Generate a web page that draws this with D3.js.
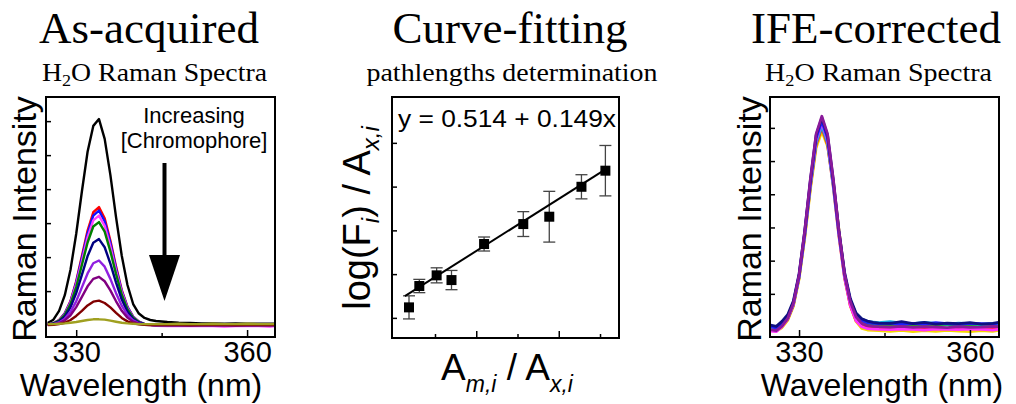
<!DOCTYPE html>
<html lang="en">
<head>
    <meta charset="UTF-8">
    <title>IFE correction</title>
    <script src="https://d3js.org/d3.v7.min.js"></script>
    <style>
        body {
            margin: 0;
            background: white;
        }
        .serif {
            font-family: "Liberation Serif", "Times New Roman", serif;
        }
        .sans {
            font-family: "Liberation Sans", Arial, sans-serif;
        }
    </style>
</head>
<body>
<svg id="viz"></svg>
<script>
    // wavelength grid (nm), shared by every spectrum
    var wavelengths = [325, 326, 327, 328, 329, 330, 331, 332, 333, 334,
        335, 336, 337, 338, 339, 340, 341, 342, 343, 344,
        346, 348, 350, 352, 354, 356, 358, 360, 362, 364, 365];

    // as-acquired spectra, top to bottom
    var acqBlack = [.06, .16, .42, .88, 1.63, 2.68, 3.93, 5.10, 5.86, 6.06, 5.48, 4.42, 3.17, 2.04, 1.18, .62, .34, .21, .15, .12,
        .09, .07, .06, .05, .05, .04, .05, .04, .04, .04, .04];
    var acqRed = [.02, .05, .15, .35, .71, 1.29, 2.03, 2.78, 3.32, 3.47, 3.14, 2.49, 1.72, 1.03, .54, .25, .10, .03, .01, 0,
        0, -.01, 0, .01, 0, -.01, 0, 0, .01, 0, 0];
    var acqBlue = [.02, .05, .14, .34, .69, 1.25, 1.97, 2.70, 3.22, 3.37, 3.05, 2.42, 1.67, 1.00, .53, .24, .10, .03, .01, 0,
        -.01, 0, .01, 0, -.01, 0, .01, 0, 0, -.01, 0];
    var acqMagenta = [.02, .05, .14, .32, .66, 1.19, 1.88, 2.58, 3.08, 3.22, 2.92, 2.31, 1.59, .96, .50, .23, .09, .03, .01, -.02,
        -.03, -.02, -.03, -.02, -.03, -.04, -.03, -.02, -.03, -.04, -.03];
    var acqGreen = [.01, .05, .13, .30, .62, 1.12, 1.77, 2.43, 2.90, 3.03, 2.75, 2.17, 1.50, .90, .47, .22, .09, .03, .01, 0,
        0, .01, 0, 0, .01, 0, 0, .01, 0, 0, .01];
    var acqNavy = [.01, .04, .11, .25, .52, .94, 1.48, 2.03, 2.42, 2.53, 2.29, 1.81, 1.25, .75, .39, .18, .07, .03, .01, 0,
        .01, 0, 0, .01, 0, 0, .01, 0, 0, .01, 0];
    var acqViolet = [.01, .03, .08, .19, .39, .70, 1.11, 1.52, 1.82, 1.90, 1.72, 1.36, .94, .57, .30, .14, .05, .02, .01, 0,
        0, -.01, 0, 0, -.01, 0, 0, -.01, 0, 0, 0];
    var acqPurple = [.01, .02, .06, .14, .29, .53, .83, 1.14, 1.36, 1.42, 1.29, 1.02, .70, .42, .22, .10, .04, .01, 0, 0,
        0, 0, -.01, 0, 0, 0, -.01, 0, 0, 0, 0];
    var acqMaroon = [0, .01, .03, .07, .15, .27, .42, .58, .69, .72, .65, .52, .36, .21, .11, .05, .02, .01, 0, 0,
        0, .01, 0, 0, .01, 0, 0, .01, 0, 0, 0];
    var acqOlive = [.03, .03, .04, .05, .07, .09, .12, .15, .17, .17, .16, .13, .10, .07, .05, .04, .03, .03, .03, .03,
        .03, .04, .03, .03, .04, .03, .03, .04, .03, .03, .03];

    // IFE-corrected spectra, drawn bottom to top
    var corYellow = [-.10, -.12, -.02, .20, .62, 1.44, 2.67, 4.15, 5.40, 5.90, 5.45, 4.35, 2.93, 1.55, .64, .17, -.04, -.09, -.10, -.11,
        -.13, -.10, -.14, -.11, -.13, -.10, -.12, -.14, -.11, -.13, -.10];
    var corRed = [-.08, -.10, .02, .23, .66, 1.48, 2.74, 4.23, 5.50, 6.00, 5.50, 4.23, 2.73, 1.46, .64, .20, .03, -.02, -.03, -.04,
        -.05, -.03, -.04, -.06, -.03, -.04, -.05, -.03, -.04, -.06, -.04];
    var corGreen = [-.03, -.06, .06, .25, .68, 1.51, 2.79, 4.32, 5.61, 6.12, 5.61, 4.32, 2.80, 1.51, .71, .29, .13, .08, .06, .05,
        .07, .04, .06, .03, .05, .07, .04, .05, .03, .06, .05];
    var corCyan = [-.04, -.06, .06, .25, .68, 1.50, 2.76, 4.27, 5.55, 6.05, 5.55, 4.27, 2.81, 1.56, .80, .40, .24, .17, .15, .13,
        .16, .12, .10, .14, .11, .09, .12, .10, .08, .11, .10];
    var corMagenta = [-.12, -.14, .01, .25, .69, 1.52, 2.81, 4.34, 5.64, 6.15, 5.64, 4.34, 2.79, 1.50, .65, .19, .01, -.05, -.06, -.07,
        -.08, -.06, -.07, -.09, -.06, -.07, -.08, -.06, -.07, -.09, -.07];
    var corBlue = [.02, -.03, .10, .30, .74, 1.55, 2.84, 4.38, 5.69, 6.20, 5.69, 4.38, 2.86, 1.58, .80, .38, .20, .13, .11, .10,
        .12, .08, .11, .09, .13, .10, .08, .11, .10, .09, .12];
    var corNavy = [.06, .02, .17, .37, .78, 1.60, 2.90, 4.44, 5.78, 6.30, 5.78, 4.44, 2.90, 1.64, .86, .42, .25, .18, .14, .12,
        .11, .16, .10, .14, .09, .12, .10, .13, .09, .11, .14];
    var corPurple = [-.08, -.11, .03, .26, .71, 1.57, 2.90, 4.48, 5.82, 6.35, 5.82, 4.48, 2.90, 1.60, .77, .31, .11, .04, .02, .01,
        0, .02, -.01, .01, 0, -.02, .01, -.01, 0, .02, .01];

    // curve-fitting points
    var fitX = [0.37, 0.62, 1.04, 1.40, 2.19, 3.14, 3.77, 4.55, 5.13];
    var fitY = [0.490, 0.612, 0.673, 0.646, 0.852, 0.966, 1.008, 1.179, 1.271];
    var fitErr = [0.066, 0.038, 0.043, 0.055, 0.040, 0.071, 0.145, 0.069, 0.144];
    var fitIntercept = 0.514;
    var fitSlope = 0.149;
    var fitSpan = [0.27, 5.16];

    // ticks
    var wlMajorTicks = [330, 360];
    var wlMinorTicks = [345];
    var intensityTicks = [1, 2, 3, 4, 5, 6];
    var ratioTicks = [1, 2, 3, 4, 5];
    var logTicks = [0.43, 0.68, 0.93, 1.18, 1.43];

    var svg = d3.select("#viz")
        .attr("width", 1016)
        .attr("height", 404);

    var SANS = "sans", SERIF = "serif";

    function addText(x, y, txt, size, cls, anchor) {
        return svg.append("text")
            .attr("class", cls)
            .attr("x", x).attr("y", y)
            .attr("font-size", size)
            .attr("text-anchor", anchor || "middle")
            .attr("fill", "black")
            .text(txt);
    }

    function subtitle(cx, txt, len, withH2O) {
        var t = svg.append("text")
            .attr("class", SERIF)
            .attr("x", cx).attr("y", 81)
            .attr("font-size", 26)
            .attr("text-anchor", "middle")
            .attr("textLength", len)
            .attr("lengthAdjust", "spacingAndGlyphs");
        if (withH2O) {
            t.append("tspan").text("H");
            t.append("tspan").attr("dy", 5).attr("font-size", 17).text("2");
            t.append("tspan").attr("dy", -5).text("O Raman Spectra");
        } else {
            t.text(txt);
        }
    }

    function frame(x0, x1, y0, y1) {
        svg.append("rect")
            .attr("x", x0).attr("y", y0)
            .attr("width", x1 - x0).attr("height", y1 - y0)
            .attr("fill", "none")
            .attr("stroke", "black")
            .attr("stroke-width", 2);
    }

    function inwardAxis(axisFn, scale, values, len, translate, labels) {
        var ax = axisFn(scale)
            .tickValues(values)
            .tickSizeInner(-len)
            .tickSizeOuter(0)
            .tickPadding(len + 6);
        if (!labels) ax.tickFormat("");
        var g = svg.append("g")
            .attr("transform", translate)
            .call(ax);
        g.select(".domain").remove();
        g.selectAll(".tick line").attr("stroke", "black").attr("stroke-width", 1.5);
        return g;
    }

    // ---------- spectra panels ----------
    function spectraPanel(opt) {
        var x = d3.scaleLinear().domain(opt.xDomain).range([opt.left, opt.right]);
        var y = d3.scaleLinear().domain(opt.yDomain).range([opt.bottom, opt.top]);

        svg.append("clipPath").attr("id", opt.id)
            .append("rect")
            .attr("x", opt.left).attr("y", opt.top)
            .attr("width", opt.right - opt.left).attr("height", opt.bottom - opt.top);

        var line = d3.line()
            .x(function (d, i) { return x(wavelengths[i]); })
            .y(function (d) { return y(d); });

        svg.append("g")
            .attr("clip-path", "url(#" + opt.id + ")")
            .selectAll("path")
            .data(opt.series)
            .enter()
            .append("path")
            .attr("d", line)
            .attr("fill", "none")
            .attr("stroke", function (d, i) { return opt.colors[i]; })
            .attr("stroke-width", opt.lineWidth)
            .attr("stroke-linejoin", "round");

        frame(opt.left, opt.right, opt.top, opt.bottom);

        var bottom = "translate(0," + opt.bottom + ")";
        var major = inwardAxis(d3.axisBottom, x, wlMajorTicks, 7, bottom, true);
        major.selectAll(".tick text")
            .attr("class", SANS)
            .attr("font-size", 29)
            .attr("fill", "black")
            .attr("dy", 0)
            .attr("y", 362 - opt.bottom)
            .attr("font-family", null);
        inwardAxis(d3.axisBottom, x, wlMinorTicks, 4, bottom, false);
        inwardAxis(d3.axisLeft, y, intensityTicks, 5, "translate(" + opt.left + ",0)", false);

        addText(opt.xTitleX, 396, "Wavelength (nm)", 32, SANS);
        svg.append("text")
            .attr("class", SANS)
            .attr("font-size", 34)
            .attr("text-anchor", "middle")
            .attr("transform", "translate(" + opt.yTitleX + "," + ((opt.top + opt.bottom) / 2 + 2) + ") rotate(-90)")
            .text("Raman Intensity");
    }

    spectraPanel({
        id: "clipA", left: 46, right: 275, top: 97, bottom: 337,
        xDomain: [324.7, 364.9], yDomain: [-0.35, 6.71],
        series: [acqBlack, acqRed, acqBlue, acqMagenta, acqGreen, acqNavy, acqViolet, acqPurple, acqMaroon, acqOlive],
        colors: ["#000000", "#ff0000", "#1010ff", "#ff40ff", "#008000", "#000080", "#9020e0", "#800080", "#800000", "#a0a020"],
        xTitleX: 141, yTitleX: 36, lineWidth: 2.4
    });

    spectraPanel({
        id: "clipC", left: 770, right: 999, top: 97, bottom: 337,
        xDomain: [324.9, 365.1], yDomain: [-0.30, 6.93],
        series: [corYellow, corRed, corGreen, corCyan, corMagenta, corBlue, corNavy, corPurple],
        colors: ["#f5d800", "#ff2020", "#2e9e2e", "#1ab0d8", "#ff30ff", "#2020ff", "#101080", "#8a1a9a"],
        xTitleX: 882, yTitleX: 761, lineWidth: 2.8
    });

    // titles
    addText(149, 43, "As-acquired", 45, SERIF);
    addText(510, 43, "Curve-fitting", 45, SERIF);
    addText(876, 43, "IFE-corrected", 45, SERIF);
    subtitle(154.5, null, 225, true);
    subtitle(512, "pathlengths determination", 291, false);
    subtitle(878.5, null, 227, true);

    // annotation in first panel
    addText(194, 123, "Increasing", 22, SANS);
    addText(194, 148, "[Chromophore]", 22, SANS);
    svg.append("line")
        .attr("x1", 164.5).attr("y1", 163)
        .attr("x2", 164.5).attr("y2", 258)
        .attr("stroke", "black").attr("stroke-width", 4);
    svg.append("path")
        .attr("d", "M149,255 L180,255 L164.5,301 Z")
        .attr("fill", "black");

    // ---------- curve-fitting panel ----------
    var fx = d3.scaleLinear().domain([-0.042, 5.46]).range([392, 619]);
    var fy = d3.scaleLinear().domain([0.315, 1.692]).range([338, 97]);

    frame(392, 619, 97, 338);
    var ratioAxis = inwardAxis(d3.axisBottom, fx, ratioTicks, 4, "translate(0,338)", false);
    ratioAxis.selectAll(".tick line").attr("y2", function (d) { return d % 2 === 0 ? -7 : -4; });
    inwardAxis(d3.axisLeft, fy, logTicks, 5, "translate(392,0)", false);

    var points = fitX.map(function (d, i) {
        return {x: d, y: fitY[i], e: fitErr[i]};
    });

    var bars = svg.append("g").selectAll("g")
        .data(points)
        .enter()
        .append("g")
        .attr("stroke", "#444")
        .attr("stroke-width", 1.3);
    bars.append("line")
        .attr("x1", function (d) { return fx(d.x); })
        .attr("x2", function (d) { return fx(d.x); })
        .attr("y1", function (d) { return fy(d.y - d.e); })
        .attr("y2", function (d) { return fy(d.y + d.e); });
    [-1, 1].forEach(function (s) {
        bars.append("line")
            .attr("x1", function (d) { return fx(d.x) - 6; })
            .attr("x2", function (d) { return fx(d.x) + 6; })
            .attr("y1", function (d) { return fy(d.y + s * d.e); })
            .attr("y2", function (d) { return fy(d.y + s * d.e); });
    });

    svg.append("line")
        .attr("x1", fx(fitSpan[0])).attr("y1", fy(fitIntercept + fitSlope * fitSpan[0]))
        .attr("x2", fx(fitSpan[1])).attr("y2", fy(fitIntercept + fitSlope * fitSpan[1]))
        .attr("stroke", "black").attr("stroke-width", 2);

    svg.append("g").selectAll("rect")
        .data(points)
        .enter()
        .append("rect")
        .attr("x", function (d) { return fx(d.x) - 5; })
        .attr("y", function (d) { return fy(d.y) - 5; })
        .attr("width", 10).attr("height", 10)
        .attr("fill", "black");

    addText(398, 127, "y = 0.514 + 0.149x", 24, SANS, "start")
        .attr("textLength", 218)
        .attr("lengthAdjust", "spacingAndGlyphs");

    // x title  A_m,i / A_x,i
    var xt = svg.append("text")
        .attr("class", SANS)
        .attr("x", 507).attr("y", 380)
        .attr("font-size", 37)
        .attr("text-anchor", "middle");
    xt.append("tspan").text("A");
    xt.append("tspan").attr("dy", 12).attr("font-size", 23).attr("font-style", "italic").text("m,i");
    xt.append("tspan").attr("dy", -12).text(" / A");
    xt.append("tspan").attr("dy", 12).attr("font-size", 23).attr("font-style", "italic").text("x,i");

    // y title  log(F_i) / A_x,i
    var yt = svg.append("text")
        .attr("class", SANS)
        .attr("font-size", 38)
        .attr("text-anchor", "middle")
        .attr("transform", "translate(370,218) rotate(-90)");
    yt.append("tspan").text("log(F");
    yt.append("tspan").attr("dy", 9).attr("font-size", 24).attr("font-style", "italic").text("i");
    yt.append("tspan").attr("dy", -9).text(") / A");
    yt.append("tspan").attr("dy", 9).attr("font-size", 24).attr("font-style", "italic").text("x,i");
</script>
</body>
</html>
